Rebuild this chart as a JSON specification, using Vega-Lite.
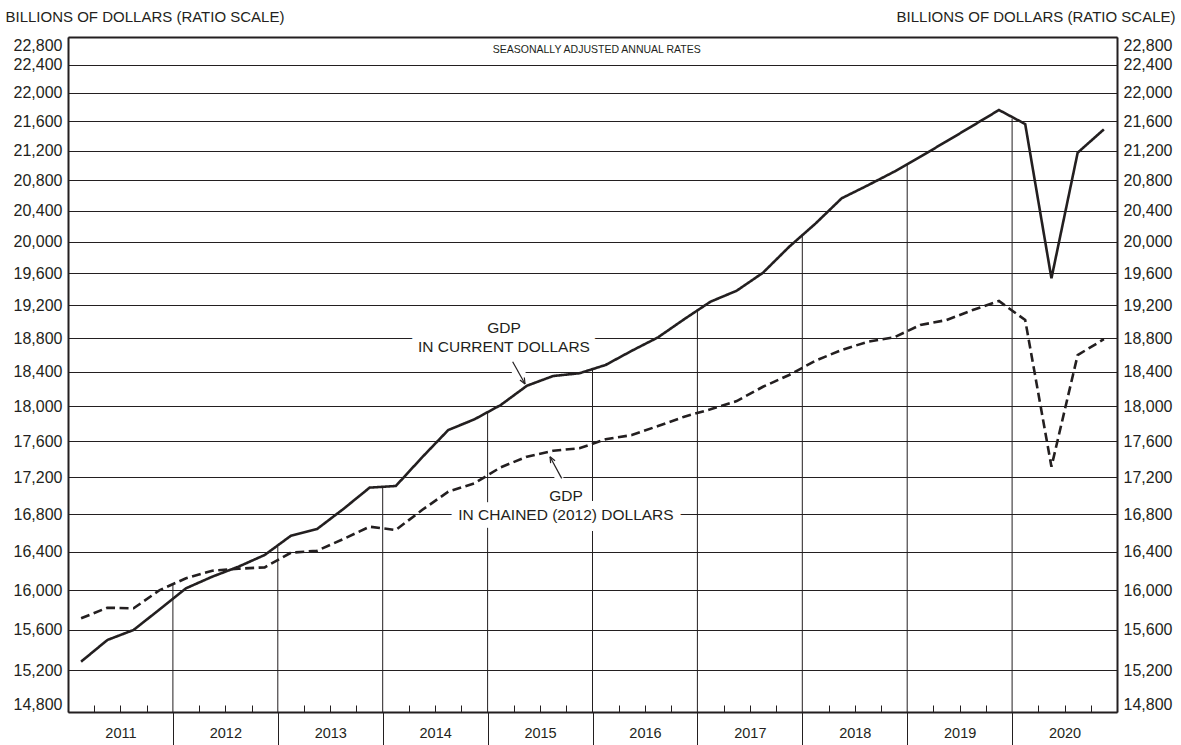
{
  "$schema": "https://vega.github.io/schema/vega-lite/v6.json",
  "width": 1049,
  "height": 675,
  "autosize": {"type": "none"},
  "padding": {"left": 68, "top": 37, "right": 64, "bottom": 33},
  "background": "white",
  "config": {
    "view": {"stroke": null},
    "font": "Liberation Sans",
    "axis": {"labelColor": "#231f20", "titleColor": "#231f20", "labelFont": "Liberation Sans", "titleFont": "Liberation Sans"},
    "text": {"font": "Liberation Sans", "color": "#231f20"}
  },
  "datasets": {
    "gdp": [
      {"t": 2011.125, "value": 15285, "series": "current"},
      {"t": 2011.375, "value": 15498, "series": "current"},
      {"t": 2011.625, "value": 15598, "series": "current"},
      {"t": 2011.875, "value": 15806, "series": "current"},
      {"t": 2012.125, "value": 16020, "series": "current"},
      {"t": 2012.375, "value": 16139, "series": "current"},
      {"t": 2012.625, "value": 16243, "series": "current"},
      {"t": 2012.875, "value": 16365, "series": "current"},
      {"t": 2013.125, "value": 16568, "series": "current"},
      {"t": 2013.375, "value": 16640, "series": "current"},
      {"t": 2013.625, "value": 16854, "series": "current"},
      {"t": 2013.875, "value": 17086, "series": "current"},
      {"t": 2014.125, "value": 17104, "series": "current"},
      {"t": 2014.375, "value": 17420, "series": "current"},
      {"t": 2014.625, "value": 17728, "series": "current"},
      {"t": 2014.875, "value": 17850, "series": "current"},
      {"t": 2015.125, "value": 18014, "series": "current"},
      {"t": 2015.375, "value": 18238, "series": "current"},
      {"t": 2015.625, "value": 18352, "series": "current"},
      {"t": 2015.875, "value": 18384, "series": "current"},
      {"t": 2016.125, "value": 18482, "series": "current"},
      {"t": 2016.375, "value": 18651, "series": "current"},
      {"t": 2016.625, "value": 18812, "series": "current"},
      {"t": 2016.875, "value": 19032, "series": "current"},
      {"t": 2017.125, "value": 19246, "series": "current"},
      {"t": 2017.375, "value": 19382, "series": "current"},
      {"t": 2017.625, "value": 19606, "series": "current"},
      {"t": 2017.875, "value": 19935, "series": "current"},
      {"t": 2018.125, "value": 20232, "series": "current"},
      {"t": 2018.375, "value": 20563, "series": "current"},
      {"t": 2018.625, "value": 20735, "series": "current"},
      {"t": 2018.875, "value": 20916, "series": "current"},
      {"t": 2019.125, "value": 21118, "series": "current"},
      {"t": 2019.375, "value": 21327, "series": "current"},
      {"t": 2019.625, "value": 21541, "series": "current"},
      {"t": 2019.875, "value": 21759, "series": "current"},
      {"t": 2020.125, "value": 21564, "series": "current"},
      {"t": 2020.375, "value": 19536, "series": "current"},
      {"t": 2020.625, "value": 21172, "series": "current"},
      {"t": 2020.875, "value": 21491, "series": "current"},
      {"t": 2011.125, "value": 15715, "series": "chained"},
      {"t": 2011.375, "value": 15822, "series": "chained"},
      {"t": 2011.625, "value": 15816, "series": "chained"},
      {"t": 2011.875, "value": 16002, "series": "chained"},
      {"t": 2012.125, "value": 16123, "series": "chained"},
      {"t": 2012.375, "value": 16201, "series": "chained"},
      {"t": 2012.625, "value": 16222, "series": "chained"},
      {"t": 2012.875, "value": 16236, "series": "chained"},
      {"t": 2013.125, "value": 16389, "series": "chained"},
      {"t": 2013.375, "value": 16410, "series": "chained"},
      {"t": 2013.625, "value": 16533, "series": "chained"},
      {"t": 2013.875, "value": 16664, "series": "chained"},
      {"t": 2014.125, "value": 16629, "series": "chained"},
      {"t": 2014.375, "value": 16843, "series": "chained"},
      {"t": 2014.625, "value": 17042, "series": "chained"},
      {"t": 2014.875, "value": 17134, "series": "chained"},
      {"t": 2015.125, "value": 17310, "series": "chained"},
      {"t": 2015.375, "value": 17428, "series": "chained"},
      {"t": 2015.625, "value": 17495, "series": "chained"},
      {"t": 2015.875, "value": 17522, "series": "chained"},
      {"t": 2016.125, "value": 17623, "series": "chained"},
      {"t": 2016.375, "value": 17671, "series": "chained"},
      {"t": 2016.625, "value": 17774, "series": "chained"},
      {"t": 2016.875, "value": 17880, "series": "chained"},
      {"t": 2017.125, "value": 17965, "series": "chained"},
      {"t": 2017.375, "value": 18060, "series": "chained"},
      {"t": 2017.625, "value": 18226, "series": "chained"},
      {"t": 2017.875, "value": 18364, "series": "chained"},
      {"t": 2018.125, "value": 18532, "series": "chained"},
      {"t": 2018.375, "value": 18660, "series": "chained"},
      {"t": 2018.625, "value": 18759, "series": "chained"},
      {"t": 2018.875, "value": 18812, "series": "chained"},
      {"t": 2019.125, "value": 18961, "series": "chained"},
      {"t": 2019.375, "value": 19021, "series": "chained"},
      {"t": 2019.625, "value": 19144, "series": "chained"},
      {"t": 2019.875, "value": 19254, "series": "chained"},
      {"t": 2020.125, "value": 19021, "series": "chained"},
      {"t": 2020.375, "value": 17317, "series": "chained"},
      {"t": 2020.625, "value": 18600, "series": "chained"},
      {"t": 2020.875, "value": 18789, "series": "chained"}
    ],
    "years": [
      {"year": 2012, "top": 16064},
      {"year": 2013, "top": 16450},
      {"year": 2014, "top": 17095},
      {"year": 2015, "top": 17935},
      {"year": 2016, "top": 18428},
      {"year": 2017, "top": 19142},
      {"year": 2018, "top": 20085},
      {"year": 2019, "top": 21010},
      {"year": 2020, "top": 21640}
    ],
    "notes": [
      {"t": 2015.156, "v": 18925, "label": "GDP"},
      {"t": 2015.156, "v": 18690, "label": "IN CURRENT DOLLARS"},
      {"t": 2015.747, "v": 16995, "label": "GDP"},
      {"t": 2015.747, "v": 16789, "label": "IN CHAINED (2012) DOLLARS"}
    ],
    "header": [
      {"t": 2016.04, "v": 22611, "label": "SEASONALLY ADJUSTED ANNUAL RATES"}
    ],
    "leaders": [
      {"id": 1, "t": 2015.239, "v": 18521, "t2": 2015.357, "v2": 18258},
      {"id": 2, "t": 2015.706, "v": 17188, "t2": 2015.595, "v2": 17428}
    ]
  },
  "resolve": {"axis": {"x": "independent", "y": "independent"}},
  "layer": [
    {
      "data": {"name": "years"},
      "mark": {"type": "rule", "color": "#231f20", "strokeWidth": 1},
      "encoding": {
        "x": {"field": "year", "type": "quantitative",
              "scale": {"type": "linear", "domain": [2011, 2021], "nice": false, "zero": false},
              "axis": {"orient": "bottom", "values": [2012, 2013, 2014, 2015, 2016, 2017, 2018, 2019, 2020], "tickSize": 33, "tickColor": "#231f20", "tickWidth": 1, "labels": false, "domain": false, "grid": false, "title": null}},
        "y": {"field": "top", "type": "quantitative",
              "scale": {"type": "log", "domain": [14800, 22800], "nice": false, "zero": false},
              "axis": {"orient": "left", "values": [14800, 15200, 15600, 16000, 16400, 16800, 17200, 17600, 18000, 18400, 18800, 19200, 19600, 20000, 20400, 20800, 21200, 21600, 22000, 22400, 22800],
                       "format": ",", "grid": true, "gridColor": "#231f20", "gridWidth": 1, "tickSize": 0, "labelPadding": 6, "labelFontSize": 16, "labelFlush": true,
                       "domain": true, "domainColor": "#231f20", "domainWidth": 2,
                       "title": "BILLIONS OF DOLLARS (RATIO SCALE)", "titleAngle": 0, "titleAlign": "left", "titleBaseline": "alphabetic", "titleX": -63, "titleY": -16, "titleFontSize": 15, "titleFontWeight": "normal"}},
        "y2": {"datum": 14800}
      }
    },
    {
      "data": {"name": "notes"},
      "mark": {"type": "text", "fontSize": 15.5, "stroke": "white", "strokeWidth": 16, "strokeJoin": "round", "fill": "white", "align": "center", "baseline": "middle"},
      "encoding": {
        "x": {"field": "t", "type": "quantitative",
              "scale": {"type": "linear", "domain": [2011, 2021], "nice": false, "zero": false},
              "axis": {"orient": "bottom", "values": [2011.25, 2011.5, 2011.75, 2012.25, 2012.5, 2012.75, 2013.25, 2013.5, 2013.75, 2014.25, 2014.5, 2014.75, 2015.25, 2015.5, 2015.75, 2016.25, 2016.5, 2016.75, 2017.25, 2017.5, 2017.75, 2018.25, 2018.5, 2018.75, 2019.25, 2019.5, 2019.75, 2020.25, 2020.5, 2020.75],
                       "tickSize": -7, "tickColor": "#231f20", "tickWidth": 1, "labels": false, "domain": false, "grid": false, "title": null}},
        "y": {"field": "v", "type": "quantitative", "scale": {"type": "log", "domain": [14800, 22800], "nice": false, "zero": false}, "axis": null},
        "text": {"field": "label", "type": "nominal"}
      }
    },
    {
      "data": {"name": "leaders"},
      "mark": {"type": "rule", "color": "white", "strokeWidth": 12},
      "encoding": {
        "x": {"field": "t", "type": "quantitative", "scale": {"type": "linear", "domain": [2011, 2021], "nice": false, "zero": false}, "axis": null},
        "x2": {"field": "t2"},
        "y": {"field": "v", "type": "quantitative", "scale": {"type": "log", "domain": [14800, 22800], "nice": false, "zero": false}, "axis": null},
        "y2": {"field": "v2"}
      }
    },
    {
      "data": {"name": "gdp"},
      "mark": {"type": "line", "strokeWidth": 2.6, "color": "#231f20"},
      "encoding": {
        "x": {"field": "t", "type": "quantitative",
              "scale": {"type": "linear", "domain": [2011, 2021], "nice": false, "zero": false},
              "axis": {"orient": "bottom", "values": [2011.5, 2012.5, 2013.5, 2014.5, 2015.5, 2016.5, 2017.5, 2018.5, 2019.5, 2020.5], "labelExpr": "floor(datum.value)",
                       "tickSize": 0, "labelPadding": 14, "labelFontSize": 14.5, "labelFlush": false, "domain": true, "domainColor": "#231f20", "domainWidth": 2, "grid": false, "title": null}},
        "y": {"field": "value", "type": "quantitative",
              "scale": {"type": "log", "domain": [14800, 22800], "nice": false, "zero": false},
              "axis": {"orient": "right", "values": [14800, 15200, 15600, 16000, 16400, 16800, 17200, 17600, 18000, 18400, 18800, 19200, 19600, 20000, 20400, 20800, 21200, 21600, 22000, 22400, 22800],
                       "format": ",", "grid": false, "tickSize": 0, "labelPadding": 6, "labelFontSize": 16, "labelFlush": true,
                       "domain": true, "domainColor": "#231f20", "domainWidth": 2,
                       "title": "BILLIONS OF DOLLARS (RATIO SCALE)", "titleAngle": 0, "titleAlign": "right", "titleBaseline": "alphabetic", "titleX": 58, "titleY": -16, "titleFontSize": 15, "titleFontWeight": "normal"}},
        "strokeDash": {"field": "series", "type": "nominal", "scale": {"domain": ["current", "chained"], "range": [[1, 0], [9, 4.5]]}, "legend": null}
      }
    },
    {
      "data": {"name": "notes"},
      "mark": {"type": "text", "fontSize": 15.5, "align": "center", "baseline": "middle", "color": "#231f20"},
      "encoding": {
        "x": {"field": "t", "type": "quantitative", "scale": {"type": "linear", "domain": [2011, 2021], "nice": false, "zero": false}, "axis": null},
        "y": {"field": "v", "type": "quantitative", "scale": {"type": "log", "domain": [14800, 22800], "nice": false, "zero": false}, "axis": null},
        "text": {"field": "label", "type": "nominal"}
      }
    },
    {
      "data": {"name": "header"},
      "mark": {"type": "text", "fontSize": 10.5, "align": "center", "baseline": "middle", "color": "#231f20"},
      "encoding": {
        "x": {"field": "t", "type": "quantitative", "scale": {"type": "linear", "domain": [2011, 2021], "nice": false, "zero": false},
              "axis": {"orient": "top", "domain": true, "domainColor": "#231f20", "domainWidth": 2, "ticks": false, "labels": false, "grid": false, "title": null}},
        "y": {"field": "v", "type": "quantitative", "scale": {"type": "log", "domain": [14800, 22800], "nice": false, "zero": false}, "axis": null},
        "text": {"field": "label", "type": "nominal"}
      }
    },
    {
      "data": {"name": "leaders"},
      "mark": {"type": "rule", "color": "#231f20", "strokeWidth": 1.2},
      "encoding": {
        "x": {"field": "t", "type": "quantitative", "scale": {"type": "linear", "domain": [2011, 2021], "nice": false, "zero": false}, "axis": null},
        "x2": {"field": "t2"},
        "y": {"field": "v", "type": "quantitative", "scale": {"type": "log", "domain": [14800, 22800], "nice": false, "zero": false}, "axis": null},
        "y2": {"field": "v2"}
      }
    },
    {
      "data": {"name": "leaders"},
      "transform": [{"filter": "datum.id == 1"}],
      "mark": {"type": "point", "shape": "M0,0L-0.5,1.2M0,0L0.5,1.2", "size": 100, "angle": 151, "filled": false, "stroke": "#231f20", "strokeWidth": 1.2, "opacity": 1},
      "encoding": {
        "x": {"field": "t2", "type": "quantitative", "scale": {"type": "linear", "domain": [2011, 2021], "nice": false, "zero": false}, "axis": null},
        "y": {"field": "v2", "type": "quantitative", "scale": {"type": "log", "domain": [14800, 22800], "nice": false, "zero": false}, "axis": null}
      }
    },
    {
      "data": {"name": "leaders"},
      "transform": [{"filter": "datum.id == 2"}],
      "mark": {"type": "point", "shape": "M0,0L-0.5,1.2M0,0L0.5,1.2", "size": 100, "angle": 332, "filled": false, "stroke": "#231f20", "strokeWidth": 1.2, "opacity": 1},
      "encoding": {
        "x": {"field": "t2", "type": "quantitative", "scale": {"type": "linear", "domain": [2011, 2021], "nice": false, "zero": false}, "axis": null},
        "y": {"field": "v2", "type": "quantitative", "scale": {"type": "log", "domain": [14800, 22800], "nice": false, "zero": false}, "axis": null}
      }
    }
  ]
}
